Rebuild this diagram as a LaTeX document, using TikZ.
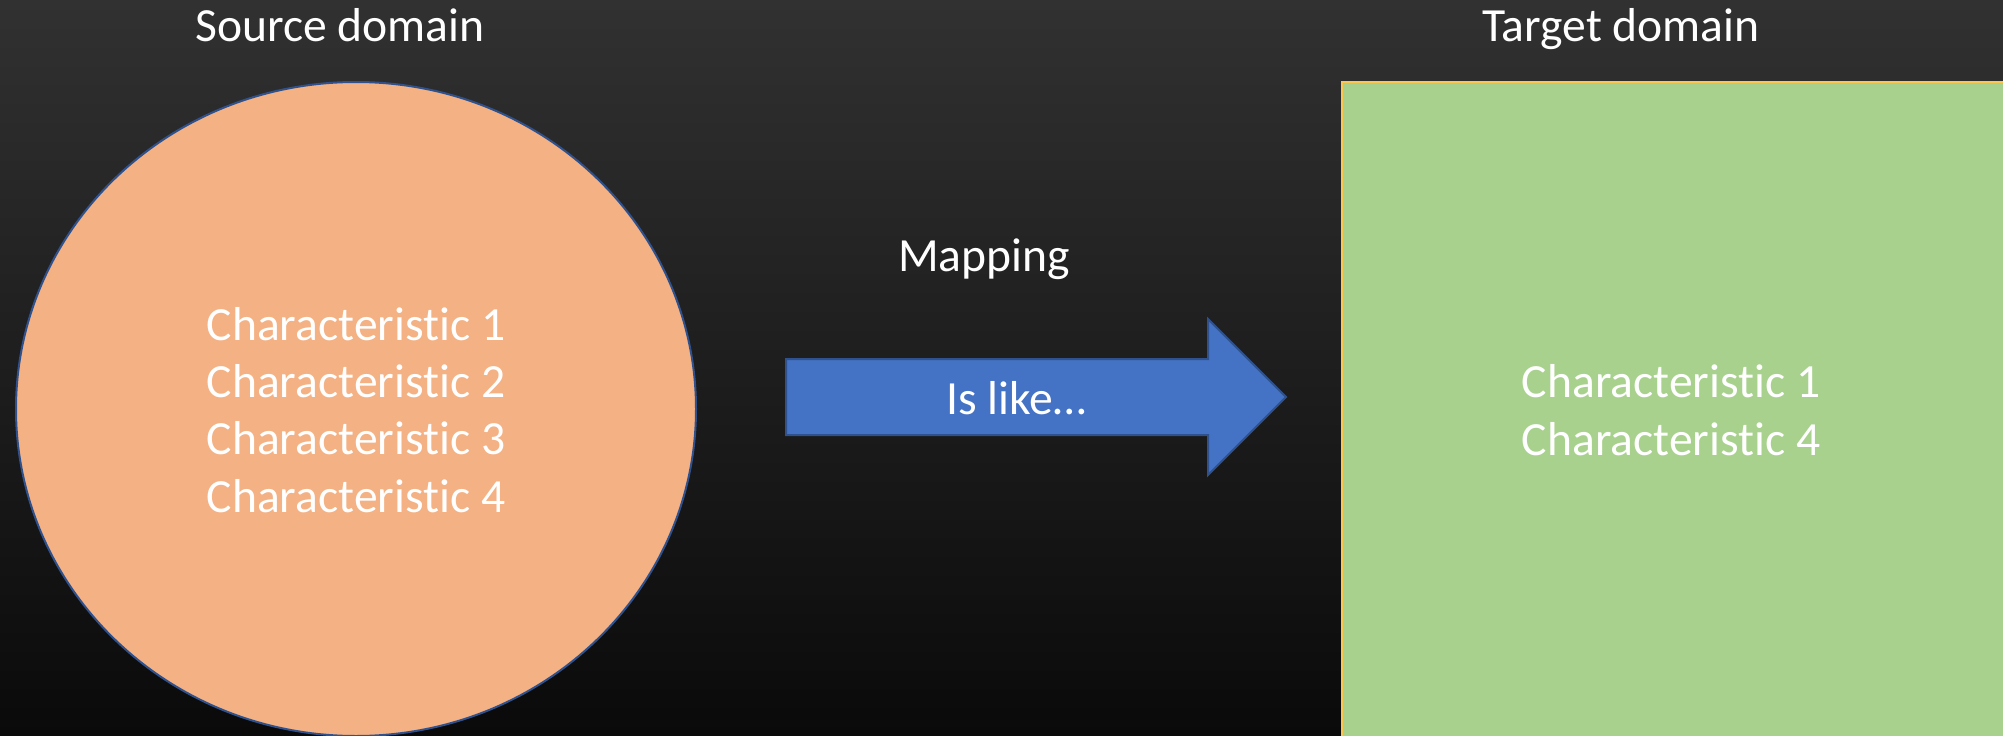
\documentclass[tikz,border=0pt]{standalone}
\usepackage{fontspec}
\setmainfont{Carlito}[Ligatures=NoCommon]
\usetikzlibrary{shapes.geometric}
\definecolor{bgtop}{RGB}{49,49,49}
\definecolor{bgbot}{RGB}{10,10,10}
\definecolor{srcfill}{RGB}{244,177,131}
\definecolor{srcline}{RGB}{47,82,143}
\definecolor{tgtfill}{RGB}{169,209,142}
\definecolor{tgtline}{RGB}{250,200,80}
\definecolor{arrfill}{RGB}{68,114,196}
\definecolor{arrline}{RGB}{47,82,143}
\tikzset{
  lbl/.style={text=white, font=\fontsize{47.6}{57.3}\selectfont, inner sep=0pt, anchor=base},
  multi/.style={lbl, align=center},
}
\begin{document}
\begin{tikzpicture}[x=1pt,y=-1pt]
\useasboundingbox (0,0) rectangle (2003,736);
\shade[top color=bgtop, bottom color=bgbot] (0,0) rectangle (2003,736);
% source domain ellipse
\node[ellipse, draw=srcline, line width=2pt, fill=srcfill, minimum width=680pt, minimum height=654pt, inner sep=0pt] (src) at (356,409) {};
% target domain rectangle
\draw[draw=tgtline, line width=2.5pt, fill=tgtfill] (1342,82) rectangle (2010,745);
\coordinate (tgt) at (1671,409);
% arrow
\draw[draw=arrline, line width=2pt, fill=arrfill]
  (786,359) -- (1208,359) -- (1208,319) -- (1286,397) -- (1208,475) -- (1208,435) -- (786,435) -- cycle;
% texts
\node[lbl] (srclbl) at (340,41) {Source domain};
\node[lbl] (tgtlbl) at (1621,41) {Target domain};
\node[lbl] (map) at (984,271) {Mapping};
\node[lbl] (islike) at (1016,414) {Is like…};
\node[multi] (srctext) at (356,512) {Characteristic 1\\Characteristic 2\\Characteristic 3\\Characteristic 4};
\node[multi] (tgttext) at (1671,455) {Characteristic 1\\Characteristic 4};
\end{tikzpicture}
\end{document}
